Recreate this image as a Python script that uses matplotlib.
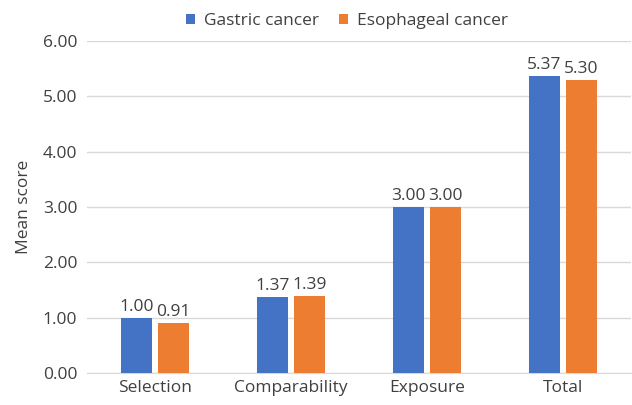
import numpy as np
import matplotlib.pyplot as plt

plt.rcParams['font.family'] = ['Open Sans', 'DejaVu Sans']

categories = ['Selection', 'Comparability', 'Exposure', 'Total']
gastric = [1.00, 1.37, 3.00, 5.37]
esophageal = [0.91, 1.39, 3.00, 5.30]
yticks = [0, 1, 2, 3, 4, 5, 6]

BLUE = '#4472C4'
ORANGE = '#ED7D31'
GRID = '#D9D9D9'
TEXT = '#404040'
FS = 12.5

fig = plt.figure(figsize=(6.32, 4.05), dpi=100)
ax = fig.add_axes([87 / 632, 32 / 405, 544 / 632, 332 / 405])

x = np.arange(len(categories))
w = 0.235
off = 0.136
b1 = ax.bar(x - off, gastric, w, color=BLUE, label='Gastric cancer', zorder=3)
b2 = ax.bar(x + off, esophageal, w, color=ORANGE, label='Esophageal cancer', zorder=3)

for bars in (b1, b2):
    for b in bars:
        ax.annotate(f'{b.get_height():.2f}', (b.get_x() + b.get_width() / 2, b.get_height()),
                    xytext=(0, 2), textcoords='offset points', ha='center', va='bottom',
                    fontsize=FS, color=TEXT)

ax.set_xlim(-0.5, len(categories) - 0.5)
ax.set_ylim(0, 6)
ax.set_yticks(yticks)
ax.set_yticklabels([f'{v:.2f}' for v in yticks])
ax.set_xticks(x)
ax.set_xticklabels(categories)
ax.tick_params(axis='both', length=0, labelsize=FS, colors=TEXT)
ax.tick_params(axis='y', pad=7)
ax.tick_params(axis='x', pad=5)
ax.grid(axis='y', color=GRID, linewidth=1, zorder=0)
for s in ['top', 'right', 'left']:
    ax.spines[s].set_visible(False)
ax.spines['bottom'].set_color(GRID)
ax.set_ylabel('Mean score', fontsize=FS, color=TEXT, labelpad=8)

ax.legend(loc='upper center', bbox_to_anchor=(0.5 - 12 / 544, 1.13), ncol=2, frameon=False,
          fontsize=FS, handlelength=0.5, handleheight=0.5, handletextpad=0.5,
          columnspacing=1.2, labelcolor=TEXT)

fig.savefig('out.png', dpi=100)
